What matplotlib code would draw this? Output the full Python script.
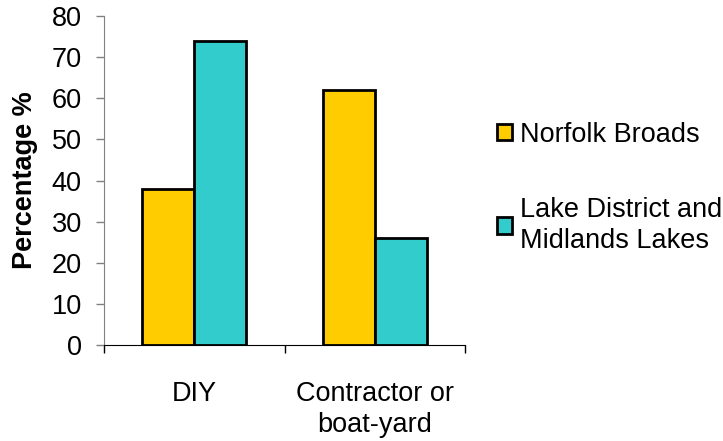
import numpy as np
import matplotlib.pyplot as plt

# data
categories = ['DIY', 'Contractor or\nboat-yard']
series_names = ['Norfolk Broads', 'Lake District and\nMidlands Lakes']
norfolk = [38, 62]
lakes = [74, 26]
colors = ['#FFCC00', '#33CCCC']

plt.rcParams['font.family'] = ['Liberation Sans', 'DejaVu Sans']
fs = 19.5

fig = plt.figure(figsize=(7.23, 4.41), dpi=100)
ax = fig.add_axes([0.1438, 0.2177, 0.4994, 0.746])

x = np.arange(len(categories))
w = 0.288
ax.bar(x - w / 2, norfolk, w, color=colors[0], edgecolor='black', linewidth=2,
       label=series_names[0])
ax.bar(x + w / 2, lakes, w, color=colors[1], edgecolor='black', linewidth=2,
       label=series_names[1])

ax.set_xlim(-0.5, 1.5)
ax.set_ylim(0, 80)
ax.set_yticks(range(0, 81, 10))
ax.set_xticks(x)
ax.set_xticklabels(categories, fontsize=fs, linespacing=1.25)
ax.set_xticks([-0.5, 0.5, 1.5], minor=True)
ax.tick_params(axis='x', which='major', length=0, pad=26)
ax.tick_params(axis='x', which='minor', length=6, width=1, direction='out')
ax.tick_params(axis='y', labelsize=fs, length=6, width=1, color='#808080', pad=10)

for s in ['top', 'right']:
    ax.spines[s].set_visible(False)
ax.spines['left'].set_color('#808080')
ax.spines['bottom'].set_color('black')

ax.set_ylabel('Percentage %', fontsize=fs, fontweight='bold', labelpad=10)

leg = ax.legend(loc='upper left', bbox_to_anchor=(1.058, 0.711), frameon=False,
                fontsize=fs, handlelength=0.55, handleheight=0.55, handletextpad=0.3,
                labelspacing=1.8, borderaxespad=0)
for t in leg.get_texts():
    t.set_linespacing(1.25)

fig.savefig('out.png', dpi=100)
